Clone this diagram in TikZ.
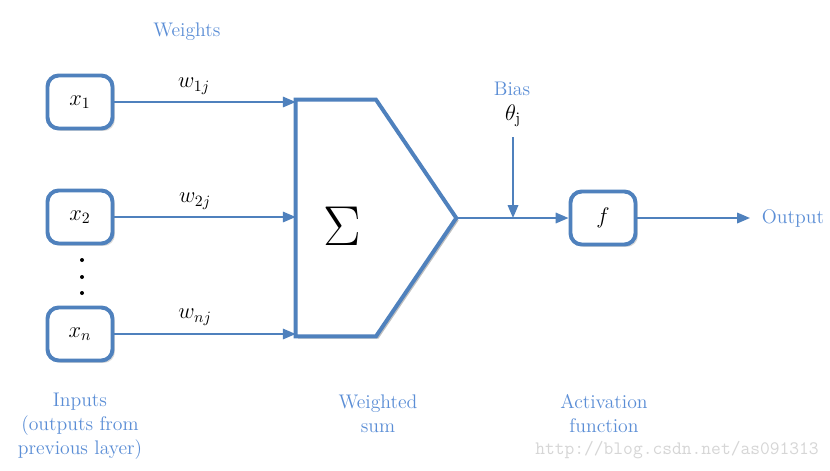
\RequirePackage{fix-cm}
\documentclass[tikz,border=0pt]{standalone}
\usepackage{amssymb,amsmath}
\usepackage{tikz}
\usetikzlibrary{positioning, arrows.meta, shadows}
\definecolor{lineblue}{HTML}{4F81BD}
\definecolor{textblue}{HTML}{5B8ED6}
\definecolor{wmgray}{HTML}{D6D6D6}
\tikzset{%
	>={Triangle[length=3.2mm,width=2.6mm]},
	every edge/.append style={line width = 1.4pt, lineblue},
	inp/.style = {name = #1, draw = lineblue, line width = 2.8pt, rounded corners = 2.8mm,
		fill = white, minimum width = 1.625cm, minimum height = 1.325cm,
		font = \fontsize{16}{18}\selectfont,
		drop shadow = {opacity = 0.3, shadow xshift = 0.6mm, shadow yshift = -0.6mm}},
	lbl/.style = {text = textblue, align = center, font = \fontsize{14}{17}\selectfont},
	wgt/.style = {font = \fontsize{16}{17}\selectfont}
}

\begin{document}
\begin{tikzpicture}[x=0.025cm,y=-0.025cm]
			\useasboundingbox [fill = white] (0,0) rectangle (830,470);
			% inputs
			\node [inp = {x1}] at (80,102) {$x_1$};
			\node [inp = {x2}] at (80,217) {$x_2$};
			\node [inp = {xn}] at (80,334) {$x_n$};
			\foreach \dy in {260,277,293} \fill (82,\dy) circle (2);
			% summation block
			\node (sum) [minimum width = 4cm, minimum height = 5.9cm, inner sep = 0pt] at (376,218) {};
			\fill [black, opacity = 0.25] ([shift = {(0.6mm,-0.6mm)}]sum.north west) -- ([shift = {(0.6mm,-0.6mm)}]sum.north) -- ([shift = {(0.6mm,-0.6mm)}]sum.east)
				-- ([shift = {(0.6mm,-0.6mm)}]sum.south) -- ([shift = {(0.6mm,-0.6mm)}]sum.south west) -- cycle;
			\draw [lineblue, line width = 2.8pt, fill = white, line join = miter] (sum.north west) -- (sum.north) -- (sum.east)
				-- (sum.south) -- (sum.south west) -- cycle;
			\node (sigma) at (342,226) {\fontsize{40}{40}\selectfont $\Sigma$};
			% activation
			\node [inp = {f}] at (603,218) {$f$};
			\coordinate (junc) at (513,218);
			\coordinate (out) at (750,218);
			% labels
			\node [lbl] (weights) at (187,32) {Weights};
			\node [wgt] (w1) at (194,86) {$w_{1j}$};
			\node [wgt] (w2) at (195,201) {$w_{2j}$};
			\node [wgt] (wn) at (195,317) {$w_{nj}$};
			\node [lbl] (bias) at (512,89) {Bias};
			\node [wgt, inner sep = 1pt] (theta) at (513,116) {$\theta_{\mathrm{j}}$};
			\node [lbl, anchor = west] (output) at (757,218) {Output};
			\node [lbl] (inputs) at (80,426) {Inputs\\(outputs from\\previous layer)};
			\node [lbl] (wsum) at (378,414) {Weighted\\sum};
			\node [lbl] (actf) at (604,414) {Activation\\function};
			\node [text = wmgray, font = \ttfamily\fontsize{13.5}{13.5}\selectfont] (wm) at (677,450) {http://blog.csdn.net/as091313};
			% connectors
			\path [->] (x1) edge (x1 -| sum.west);
			\path [->] (x2) edge (x2 -| sum.west);
			\path [->] (xn) edge (xn -| sum.west);
			\path [-] (sum.east) edge (junc);
			\path [->] (junc) edge (f);
			\path [->] ([yshift = -6pt]theta.south) edge (junc);
			\path [->] (f) edge (out);
			\end{tikzpicture}
\end{document}
